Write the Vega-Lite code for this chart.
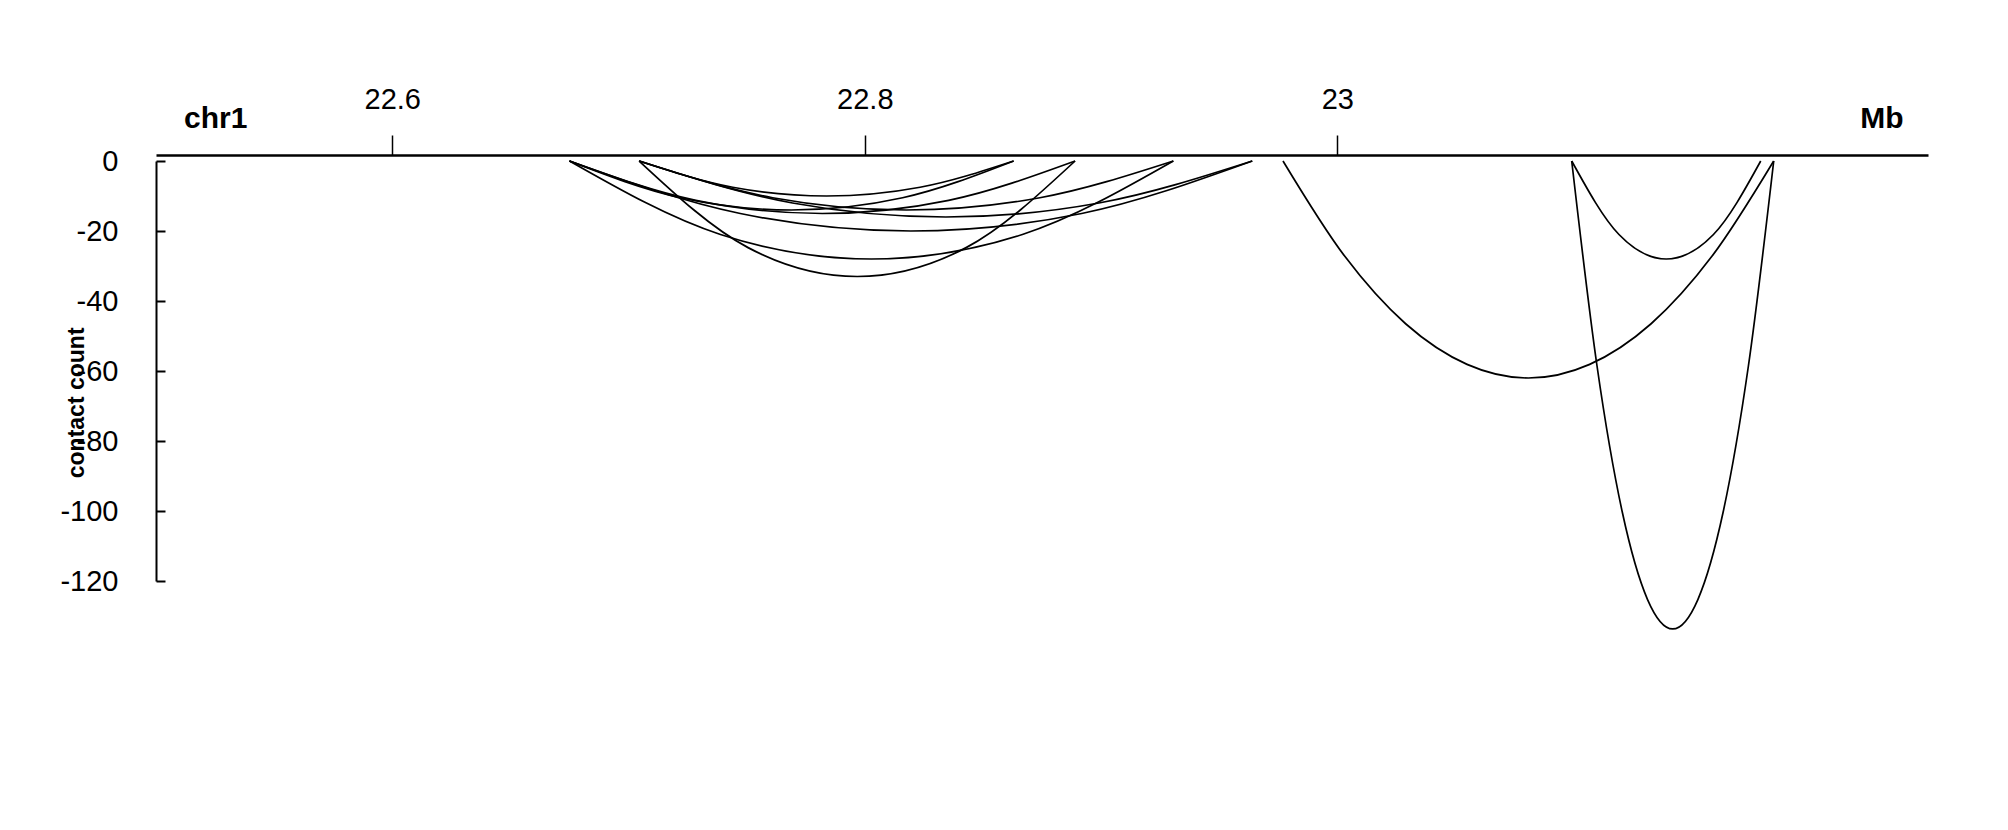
{
  "$schema": "https://vega.github.io/schema/vega-lite/v6.json",
  "width": 1772,
  "height": 420,
  "autosize": {"type": "none"},
  "padding": {"left": 156, "top": 161, "right": 80, "bottom": 249},
  "background": "white",
  "config": {"view": {"stroke": null}, "font": "Liberation Sans"},
  "layer": [
    {
      "data": {
        "values": [
          {"arc": 1, "pos": 22.7045, "value": 0}, {"arc": 1, "pos": 22.7441, "value": -7.5}, {"arc": 1, "pos": 22.7838, "value": -10}, {"arc": 1, "pos": 22.8234, "value": -7.5}, {"arc": 1, "pos": 22.863, "value": 0},
          {"arc": 2, "pos": 22.675, "value": 0}, {"arc": 2, "pos": 22.722, "value": -10.5}, {"arc": 2, "pos": 22.769, "value": -14}, {"arc": 2, "pos": 22.816, "value": -10.5}, {"arc": 2, "pos": 22.863, "value": 0},
          {"arc": 3, "pos": 22.7045, "value": 0}, {"arc": 3, "pos": 22.7506, "value": -24.75}, {"arc": 3, "pos": 22.7968, "value": -33}, {"arc": 3, "pos": 22.8429, "value": -24.75}, {"arc": 3, "pos": 22.889, "value": 0},
          {"arc": 4, "pos": 22.675, "value": 0}, {"arc": 4, "pos": 22.7285, "value": -11.25}, {"arc": 4, "pos": 22.782, "value": -15}, {"arc": 4, "pos": 22.8355, "value": -11.25}, {"arc": 4, "pos": 22.889, "value": 0},
          {"arc": 5, "pos": 22.675, "value": 0}, {"arc": 5, "pos": 22.7389, "value": -21}, {"arc": 5, "pos": 22.8028, "value": -28}, {"arc": 5, "pos": 22.8667, "value": -21}, {"arc": 5, "pos": 22.9306, "value": 0},
          {"arc": 6, "pos": 22.7045, "value": 0}, {"arc": 6, "pos": 22.761, "value": -10.5}, {"arc": 6, "pos": 22.8176, "value": -14}, {"arc": 6, "pos": 22.8741, "value": -10.5}, {"arc": 6, "pos": 22.9306, "value": 0},
          {"arc": 7, "pos": 22.675, "value": 0}, {"arc": 7, "pos": 22.7473, "value": -15}, {"arc": 7, "pos": 22.8195, "value": -20}, {"arc": 7, "pos": 22.8918, "value": -15}, {"arc": 7, "pos": 22.964, "value": 0},
          {"arc": 8, "pos": 22.7045, "value": 0}, {"arc": 8, "pos": 22.7694, "value": -12}, {"arc": 8, "pos": 22.8343, "value": -16}, {"arc": 8, "pos": 22.8991, "value": -12}, {"arc": 8, "pos": 22.964, "value": 0},
          {"arc": 9, "pos": 22.977, "value": 0}, {"arc": 9, "pos": 23.003, "value": -27.1}, {"arc": 9, "pos": 23.0289, "value": -46.5}, {"arc": 9, "pos": 23.0549, "value": -58.1}, {"arc": 9, "pos": 23.0809, "value": -62}, {"arc": 9, "pos": 23.1068, "value": -58.1}, {"arc": 9, "pos": 23.1328, "value": -46.5}, {"arc": 9, "pos": 23.1587, "value": -27.1}, {"arc": 9, "pos": 23.1847, "value": 0},
          {"arc": 10, "pos": 23.0992, "value": 0}, {"arc": 10, "pos": 23.1192, "value": -21}, {"arc": 10, "pos": 23.1392, "value": -28}, {"arc": 10, "pos": 23.1592, "value": -21}, {"arc": 10, "pos": 23.1792, "value": 0},
          {"arc": 11, "pos": 23.0992, "value": 0}, {"arc": 11, "pos": 23.1099, "value": -58.5}, {"arc": 11, "pos": 23.1206, "value": -100.3}, {"arc": 11, "pos": 23.1313, "value": -125.3}, {"arc": 11, "pos": 23.14195, "value": -133.7}, {"arc": 11, "pos": 23.1526, "value": -125.3}, {"arc": 11, "pos": 23.1633, "value": -100.3}, {"arc": 11, "pos": 23.174, "value": -58.5}, {"arc": 11, "pos": 23.1847, "value": 0}
        ]
      },
      "mark": {"type": "line", "interpolate": "monotone", "color": "black", "strokeWidth": 1.7},
      "encoding": {
        "x": {
          "field": "pos", "type": "quantitative",
          "scale": {"domain": [22.5, 23.25], "nice": false, "zero": false},
          "axis": {
            "orient": "top", "values": [22.6, 22.8, 23], "labelExpr": "'' + datum.value",
            "title": null, "grid": false, "offset": 6,
            "domainColor": "black", "domainWidth": 2.5, "tickColor": "black", "tickWidth": 1.5, "tickSize": 20,
            "labelFont": "Liberation Sans", "labelFontSize": 29, "labelColor": "black", "labelPadding": 21
          }
        },
        "y": {
          "field": "value", "type": "quantitative",
          "scale": {"domain": [-120, 0], "nice": false, "zero": false},
          "axis": {
            "orient": "left", "values": [0, -20, -40, -60, -80, -100, -120], "labelExpr": "'' + datum.value",
            "title": null, "grid": false,
            "domainColor": "black", "domainWidth": 2, "tickColor": "black", "tickWidth": 2, "tickSize": -9,
            "labelFont": "Liberation Sans", "labelFontSize": 29, "labelColor": "black", "labelPadding": 47
          }
        },
        "detail": {"field": "arc", "type": "nominal"}
      }
    },
    {
      "data": {"values": [{"label": "chr1", "pos": 22.5253, "value": 9.43}, {"label": "Mb", "pos": 23.2305, "value": 9.43}]},
      "mark": {"type": "text", "font": "Liberation Sans", "fontSize": 30, "fontWeight": "bold", "align": "center", "baseline": "alphabetic", "color": "black"},
      "encoding": {
        "x": {"field": "pos", "type": "quantitative"},
        "y": {"field": "value", "type": "quantitative"},
        "text": {"field": "label"}
      }
    },
    {
      "data": {"values": [{"label": "contact count", "pos": 22.4695, "value": -69.1}]},
      "mark": {"type": "text", "font": "Liberation Sans", "fontSize": 23, "fontWeight": "bold", "align": "center", "baseline": "alphabetic", "angle": 270, "color": "black"},
      "encoding": {
        "x": {"field": "pos", "type": "quantitative"},
        "y": {"field": "value", "type": "quantitative"},
        "text": {"field": "label"}
      }
    }
  ]
}
